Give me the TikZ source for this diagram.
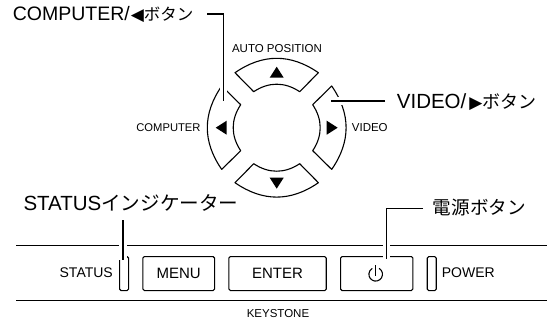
\documentclass[tikz,border=0pt]{standalone}
\usepackage{fontspec}
\setmainfont{Liberation Sans}
\newfontfamily\jpf{Noto Sans CJK JP}
\newfontfamily\symf{DejaVu Sans}
\newcommand{\jp}[2][18.4]{{\jpf\fontsize{#1}{18}\selectfont #2}}
\newcommand{\tria}[2][3pt]{\hspace{#1}{\symf\fontsize{17}{15}\selectfont #2}}
\tikzset{
  panel/.style={draw=black,line width=1.1pt,rounded corners=1.5pt,inner sep=0pt,anchor=north west,align=center},
  bigbtn/.style={panel,minimum height=34pt,font=\fontsize{15}{15}\selectfont},
  lamp/.style={panel,minimum width=9pt,minimum height=34pt},
  small/.style={inner sep=0pt,font=\fontsize{11.5}{13}\selectfont},
  mid/.style={inner sep=0pt,font=\fontsize{14}{14}\selectfont},
  big/.style={inner sep=0pt,anchor=west,font=\fontsize{19.5}{20}\selectfont},
  rail/.style={line width=1.1pt},
  arcbtn/.style={line width=1.1pt,line join=round},
  tri/.style={fill=black,draw=none},
  leader/.style={line width=1.4pt,preaction={draw=white,line width=7.5pt}},
}
\newcommand{\arcshape}[1]{%
  \begin{scope}[shift={(276.7,127.7)},rotate=#1]
    \draw[arcbtn] (-41.7,-55) .. controls (-13.9,-74.2) and (13.9,-74.2) .. (41.7,-55)
      -- (23,-36) .. controls (8,-46) and (-8,-46) .. (-23,-36) -- cycle;
    \fill[tri] (0,-61) -- (7,-50) -- (-7,-50) -- cycle;
  \end{scope}}
\begin{document}
\begin{tikzpicture}[x=1pt,y=-1pt]
\useasboundingbox (0,0) rectangle (550,325);
\arcshape{0}\arcshape{90}\arcshape{180}\arcshape{270}
% rails
\coordinate (r1a) at (16,245.7); \coordinate (r1b) at (546.7,245.7);
\coordinate (r2a) at (16,300.7); \coordinate (r2b) at (546.7,300.7);
\draw[rail] (r1a) -- (r1b);
\draw[rail] (r2a) -- (r2b);
% panel
\node[lamp] (statuslamp) at (119,256) {};
\node[bigbtn,minimum width=71.7pt] (menu) at (142.3,256) {MENU};
\node[bigbtn,minimum width=97.4pt] (enter) at (228.3,256) {ENTER};
\node[bigbtn,minimum width=72.3pt] (pow) at (340,256) {};
\node[lamp] (powerlamp) at (426.7,256) {};
\draw[line width=1.1pt] (379.1,268.4) arc[start angle=-60,end angle=240,radius=6.8];
\draw[line width=1.1pt] (375.7,265) -- (375.7,275.5);
% small labels
\node[small] (autopos) at (277,48.3) {AUTO POSITION};
\node[small,anchor=east] (computer) at (200.7,127.7) {\fontsize{11.2}{13}\selectfont COMPUTER};
\node[small,anchor=west] (video) at (351.7,127.7) {VIDEO};
\node[mid,anchor=east] (status) at (113,273) {STATUS};
\node[mid,anchor=west] (power) at (441.7,273) {POWER};
\node[small] (keystone) at (278,314) {KEYSTONE};
% callouts
\node[big] (lcomp) at (12.7,14) {COMPUTER/\tria[1pt]{◀}\jp[16.5]{ボタン}};
\node[big] (lvideo) at (396.7,101.7) {\fontsize{20.5}{20}\selectfont VIDEO/\tria{▶}\jp[18]{ボタン}};
\node[big] (lstatus) at (23.3,202.7) {\fontsize{20.5}{20}\selectfont STATUS\jp[19.6]{インジケーター}};
\node[big] (lpower) at (432.7,207.3) {\jp[18.6]{電源ボタン}};
% leaders
\coordinate (c1) at (207,14); \coordinate (c2) at (223.3,100.7);
\coordinate (v1) at (385,101); \coordinate (v2) at (331,101);
\coordinate (s1) at (123,220); \coordinate (s2) at (123,260);
\coordinate (p1) at (423,208.3); \coordinate (p2) at (386.7,259);
\draw[leader] (c1) -| (c2);
\draw[leader] (v1) -- (v2);
\draw[leader] (s1) -- (s2);
\draw[leader] (p1) -| (p2);
\end{tikzpicture}
\end{document}
